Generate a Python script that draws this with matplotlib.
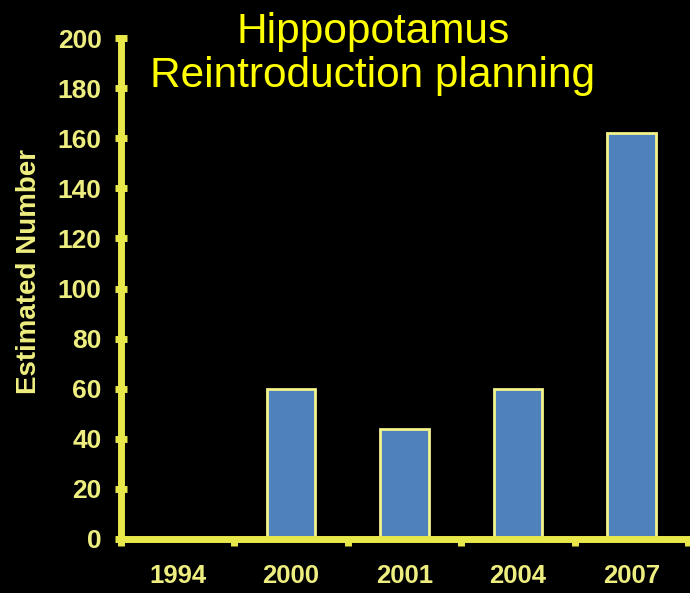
import numpy as np
import matplotlib
matplotlib.use('Agg')
import matplotlib.pyplot as plt

years = ['1994', '2000', '2001', '2004', '2007']
counts = [0, 60, 44, 60, 162]

axis_col = '#e8e84a'
label_col = '#eeee80'
bar_col = '#4f81bd'

plt.rcParams['font.family'] = ['Liberation Sans', 'DejaVu Sans']

fig = plt.figure(figsize=(6.9, 5.93), dpi=100, facecolor='black')
ax = fig.add_axes([121/690, 54/593, 567/690, 501/593], facecolor='black')

x = np.arange(len(years))
ax.bar(x, counts, width=0.43, color=bar_col, edgecolor='#f4f48c', linewidth=2, zorder=2)

ax.set_xlim(-0.5, len(years) - 0.5)
ax.set_ylim(0, 200)
ax.set_yticks(range(0, 201, 20))
ax.set_xticks(x)
ax.set_xticklabels(years)
ax.set_xticks(np.arange(-0.5, len(years)), minor=True)

for s in ['top', 'right']:
    ax.spines[s].set_visible(False)
for s in ['left', 'bottom']:
    ax.spines[s].set_color(axis_col)
    ax.spines[s].set_linewidth(5)
    ax.spines[s].set_zorder(3)

ax.tick_params(axis='y', direction='inout', length=8, width=5, color=axis_col,
               labelcolor=label_col, labelsize=19, pad=10)
ax.tick_params(axis='x', which='major', length=0, labelcolor=label_col, labelsize=18.5, pad=18)
ax.tick_params(axis='x', which='minor', direction='out', length=5, width=5, color=axis_col)
for lab in ax.get_xticklabels() + ax.get_yticklabels():
    lab.set_fontweight('bold')

ax.set_ylabel('Estimated Number', color=label_col, fontsize=20, fontweight='bold')
ax.yaxis.set_label_coords(-0.14, 0.533)

fig.text(373/690, 1 - 54/593, 'Hippopotamus\nReintroduction planning', color='#ffff00',
         fontsize=30.5, ha='center', va='center', linespacing=1.1)

fig.savefig('out.png', dpi=100, facecolor='black')
